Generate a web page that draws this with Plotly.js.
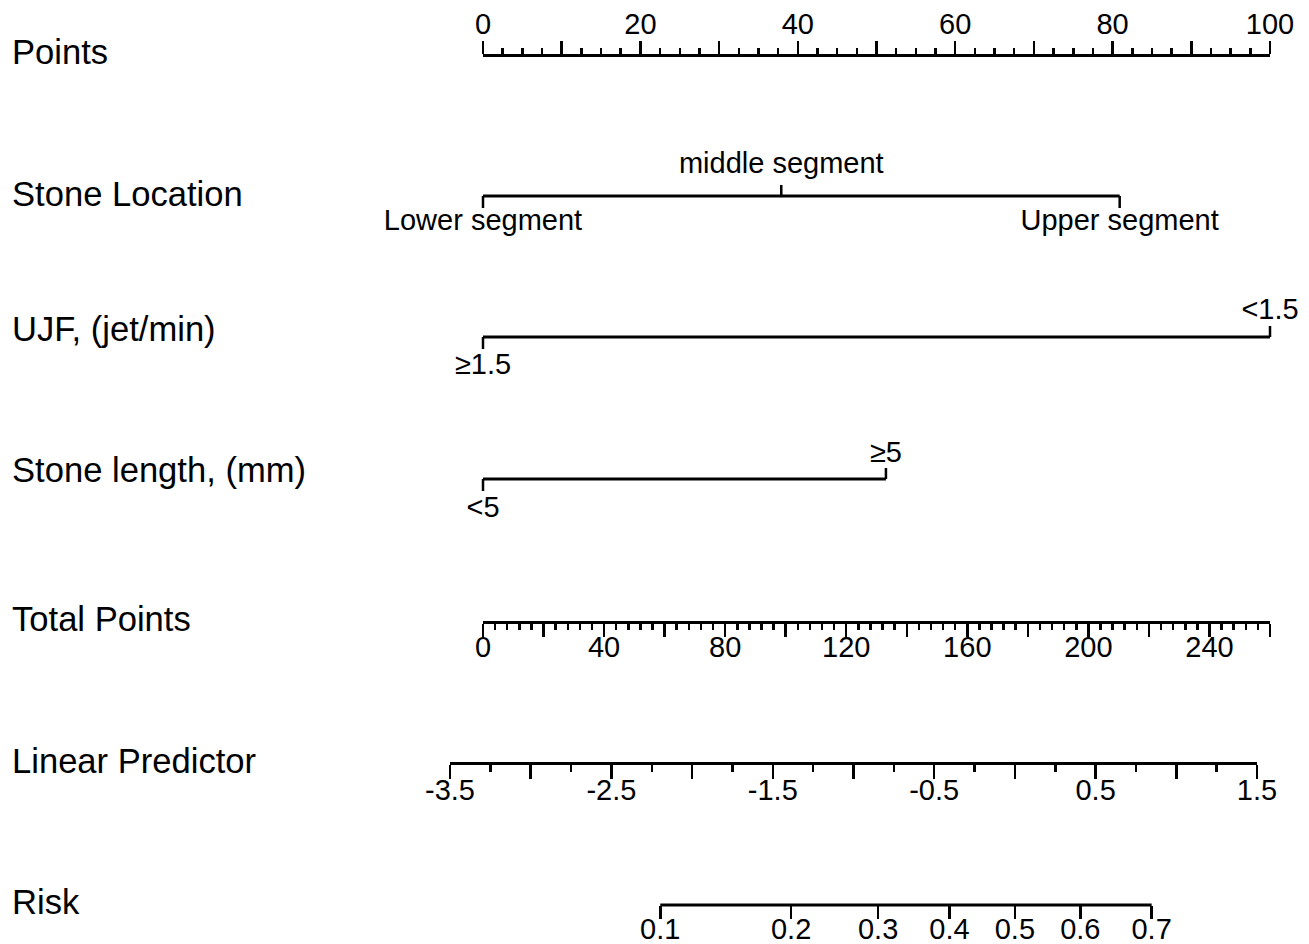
<!DOCTYPE html>
<html><head><meta charset="utf-8">
<script src="https://cdn.plot.ly/plotly-3.0.1.min.js"></script>
<style>html,body{margin:0;padding:0;background:#fff}</style>
</head><body><div id="chart" style="width:1309px;height:944px"></div>
<script>
// ---------------- data ----------------
const rowTitles = ['Points', 'Stone Location', 'UJF, (jet/min)', 'Stone length, (mm)', 'Total Points', 'Linear Predictor', 'Risk'];

const pointsTicks = [0, 10, 20, 30, 40, 50, 60, 70, 80, 90, 100];
const pointsLabels = ['0', '', '20', '', '40', '', '60', '', '80', '', '100'];

const stoneLocCats = ['Lower segment', 'middle segment', 'Upper segment'];
const stoneLocPoints = [0, 37.9, 80.9];

const ujfCats = ['\u22651.5', '<1.5'];
const ujfPoints = [0, 100];

const lengthCats = ['<5', '\u22655'];
const lengthPoints = [0, 51.2];

const totalTicks = [0, 20, 40, 60, 80, 100, 120, 140, 160, 180, 200, 220, 240, 260];
const totalLabels = ['0', '', '40', '', '80', '', '120', '', '160', '', '200', '', '240', ''];

const lpTicks = [-3.5, -3, -2.5, -2, -1.5, -1, -0.5, 0, 0.5, 1, 1.5];
const lpLabels = ['-3.5', '', '-2.5', '', '-1.5', '', '-0.5', '', '0.5', '', '1.5'];

const riskValues = [0.1, 0.2, 0.3, 0.4, 0.5, 0.6, 0.7];
const riskLabels = ['0.1', '0.2', '0.3', '0.4', '0.5', '0.6', '0.7'];

// ---------------- layout constants ----------------
const W = 1309, H = 944;
const FONT = 'Liberation Sans, Arial, Helvetica, sans-serif';
const titleY = [52, 194, 329, 470, 619, 761, 902];
const lineY  = [55, 196, 337, 479, 622, 763, 905];
const ptsPx0 = 483, ptsPx1 = 1270;     // pixel span of the 0..100 points scale
const lpPx0 = 450, lpPx1 = 1257;       // pixel span of the linear predictor scale
const pxPerPt = (ptsPx1 - ptsPx0) / 100;
const LW = 3, TW = 2.5;
const TICKFONT = {family: FONT, size: 29, color: 'black'};

const logit = p => Math.log(p / (1 - p));

const traces = [];

// categorical rows drawn on the hidden full-width points axis "x"
const catRows = [
  {cats: stoneLocCats, pts: stoneLocPoints, side: ['below', 'above', 'below'], row: 1, up: 30, down: 27},
  {cats: ujfCats, pts: ujfPoints, side: ['below', 'above'], row: 2, up: 25, down: 30},
  {cats: lengthCats, pts: lengthPoints, side: ['below', 'above'], row: 3, up: 24, down: 31}
];
catRows.forEach(r => {
  const y0 = lineY[r.row];
  const xs = [], ys = [];
  xs.push(Math.min(...r.pts), Math.max(...r.pts), null);
  ys.push(y0, y0, null);
  traces.push({x: xs, y: ys, xaxis: 'x', yaxis: 'y', mode: 'lines',
    line: {color: 'black', width: LW}, hoverinfo: 'skip', showlegend: false});
  const tx = [], ty = [];
  r.pts.forEach((p, i) => {
    const dy = r.side[i] === 'above' ? -11 : 12;
    tx.push(p, p, null); ty.push(y0, y0 + dy, null);
  });
  traces.push({x: tx, y: ty, xaxis: 'x', yaxis: 'y', mode: 'lines',
    line: {color: 'black', width: TW}, hoverinfo: 'skip', showlegend: false});
  traces.push({x: r.pts, y: r.pts.map((p, i) => r.side[i] === 'above' ? y0 - r.up : y0 + r.down),
    text: r.cats, mode: 'text', textposition: 'middle center', cliponaxis: false,
    textfont: {family: FONT, size: 29, color: 'black'},
    xaxis: 'x', yaxis: 'y', hoverinfo: 'skip', showlegend: false});
});

// anchor traces for the visible scale axes
traces.push({x: [pointsTicks[0], pointsTicks[pointsTicks.length - 1]], y: [lineY[0], lineY[0]], xaxis: 'x2', yaxis: 'y',
  mode: 'markers', marker: {opacity: 0}, hoverinfo: 'skip', showlegend: false});
traces.push({x: [totalTicks[0], totalTicks[totalTicks.length - 1]], y: [lineY[4], lineY[4]], xaxis: 'x3', yaxis: 'y',
  mode: 'markers', marker: {opacity: 0}, hoverinfo: 'skip', showlegend: false});
traces.push({x: [lpTicks[0], lpTicks[lpTicks.length - 1]], y: [lineY[5], lineY[5]], xaxis: 'x4', yaxis: 'y',
  mode: 'markers', marker: {opacity: 0}, hoverinfo: 'skip', showlegend: false});
// risk line (logit scale placed on the linear predictor axis)
traces.push({x: [logit(riskValues[0]), logit(riskValues[riskValues.length - 1])], y: [lineY[6], lineY[6]],
  xaxis: 'x5', yaxis: 'y', mode: 'lines', line: {color: 'black', width: LW}, hoverinfo: 'skip', showlegend: false});

function scaleAxis(o) {
  return Object.assign({
    anchor: 'free', showline: true, linecolor: 'black', linewidth: LW,
    ticks: 'outside', tickcolor: 'black', tickwidth: TW, tickmode: 'array',
    tickfont: TICKFONT, tickangle: 0,
    showgrid: false, zeroline: false, fixedrange: true, automargin: false,
    ticklabeloverflow: 'allow'
  }, o);
}

const layout = {
  width: W, height: H,
  margin: {l: 0, r: 0, t: 0, b: 0},
  paper_bgcolor: 'white', plot_bgcolor: 'rgba(0,0,0,0)',
  showlegend: false,
  font: {family: FONT, color: 'black'},
  xaxis: {domain: [0, 1], range: [-ptsPx0 / pxPerPt, (W - ptsPx0) / pxPerPt], visible: false, fixedrange: true},
  yaxis: {domain: [0, 1], range: [H, 0], visible: false, fixedrange: true},
  xaxis2: scaleAxis({domain: [ptsPx0 / W, ptsPx1 / W], range: [0, 100], side: 'top', position: 1 - lineY[0] / H,
    tickvals: pointsTicks, ticktext: pointsLabels, ticklen: 13, ticklabelstandoff: -5,
    minor: {tickmode: 'linear', tick0: 0, dtick: 2.5, ticks: 'outside', ticklen: 6, tickwidth: TW, tickcolor: 'black', showgrid: false}}),
  xaxis3: scaleAxis({domain: [ptsPx0 / W, ptsPx1 / W], range: [0, 260], side: 'bottom', position: 1 - lineY[4] / H,
    tickvals: totalTicks, ticktext: totalLabels, ticklen: 13, ticklabelstandoff: -15,
    minor: {tickmode: 'linear', tick0: 0, dtick: 4, ticks: 'outside', ticklen: 6, tickwidth: TW, tickcolor: 'black', showgrid: false}}),
  xaxis4: scaleAxis({domain: [lpPx0 / W, lpPx1 / W], range: [-3.5, 1.5], side: 'bottom', position: 1 - lineY[5] / H,
    tickvals: lpTicks, ticktext: lpLabels, ticklen: 14, ticklabelstandoff: -14,
    minor: {tickmode: 'linear', tick0: 0, dtick: 0.25, ticks: 'outside', ticklen: 7, tickwidth: TW, tickcolor: 'black', showgrid: false}}),
  xaxis5: scaleAxis({domain: [lpPx0 / W, lpPx1 / W], range: [-3.5, 1.5], side: 'bottom', position: 1 - lineY[6] / H,
    showline: false, tickvals: riskValues.map(logit), ticktext: riskLabels, ticklen: 13, ticklabelstandoff: -15}),
  annotations: rowTitles.map((t, i) => ({
    text: t, xref: 'paper', yref: 'y', x: 10 / W, y: titleY[i], xanchor: 'left', yanchor: 'middle',
    showarrow: false, font: {family: FONT, size: 34.6, color: 'black'}
  }))
};

Plotly.newPlot('chart', traces, layout, {displayModeBar: false, staticPlot: true});
</script>
</body></html>
